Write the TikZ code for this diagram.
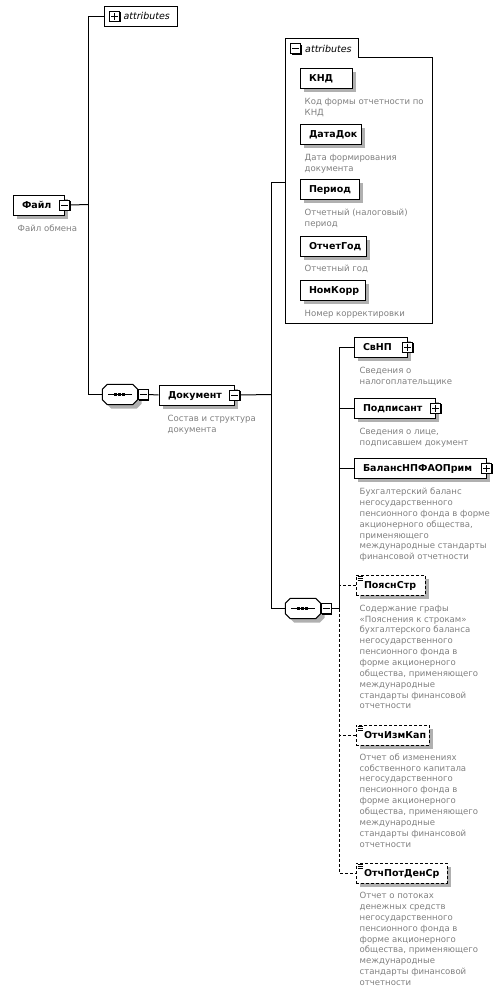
\documentclass[tikz,border=0pt]{standalone}
\usepackage{fontspec}
\setmainfont{DejaVu Sans}
\usetikzlibrary{shadows}
\definecolor{desccol}{RGB}{128,128,128}
\definecolor{shadecol}{RGB}{176,176,176}
\newcommand\nmfont{\bfseries\fontsize{9.5}{11}\selectfont}
\newcommand\dsfont{\fontsize{8.55}{10.85}\selectfont}
\newcommand\atfont{\itshape\fontsize{9.5}{11}\selectfont}
\newcommand\lbx[2]{\makebox[#1][l]{#2}}
\newcommand\dr{\rule{0pt}{7.5pt}}
\newcommand\drawoct[1]{%
  \fill[shadecol, transform canvas={shift={(4pt,-4pt)}}]
    ([xshift=5pt]#1.north west) -- ([xshift=-5pt]#1.north east) -- ([yshift=-5pt]#1.north east)
    -- ([yshift=5pt]#1.south east) -- ([xshift=-5pt]#1.south east) -- ([xshift=5pt]#1.south west)
    -- ([yshift=5pt]#1.south west) -- ([yshift=-5pt]#1.north west) -- cycle;
  \filldraw[fill=white, line width=1pt]
    ([xshift=5pt]#1.north west) -- ([xshift=-5pt]#1.north east) -- ([yshift=-5pt]#1.north east)
    -- ([yshift=5pt]#1.south east) -- ([xshift=-5pt]#1.south east) -- ([xshift=5pt]#1.south west)
    -- ([yshift=5pt]#1.south west) -- ([yshift=-5pt]#1.north west) -- cycle;
  \draw[line width=1pt] ([xshift=-12pt]#1.center) -- ([xshift=12pt]#1.center);
  \foreach \dx in {-6,-2,2}{\fill ([xshift=\dx pt, yshift=-1.5pt]#1.center) rectangle ++(3pt,3pt);}
}
\tikzset{
  conn/.style={line width=1pt},
  optdash/.style={dash pattern=on 3pt off 2pt},
  elem/.style={draw, line width=1pt, fill=white, anchor=north west, minimum height=20pt,
    inner xsep=9pt, inner ysep=0pt, text height=7pt, text depth=0pt, font=\nmfont,
    drop shadow={shadow xshift=4pt, shadow yshift=-4pt, fill=shadecol, opacity=1}},
  optelem/.style={elem, optdash, inner xsep=8pt},
  sign/.style={draw, line width=1pt, fill=white, minimum size=10pt, inner sep=0pt,
    drop shadow={shadow xshift=1pt, shadow yshift=-1pt, fill=black, opacity=1}},
  minus/.style={sign, path picture={\draw[line width=1pt]
    ([xshift=-3.5pt]path picture bounding box.center) -- ([xshift=3.5pt]path picture bounding box.center);}},
  plus/.style={sign, path picture={\draw[line width=1pt]
    ([xshift=-3.5pt]path picture bounding box.center) -- ([xshift=3.5pt]path picture bounding box.center)
    ([yshift=-3.5pt]path picture bounding box.center) -- ([yshift=3.5pt]path picture bounding box.center);}},
  seqbox/.style={rectangle, minimum width=35pt, minimum height=20pt, inner sep=0pt},
  desc/.style={anchor=north west, align=left, font=\dsfont, text=desccol, inner sep=0pt},
}
\begin{document}
\begin{tikzpicture}[x=1pt,y=-1pt]
\useasboundingbox (0,0) rectangle (499,986);
\begin{scope}[xshift=0.5pt, yshift=-0.5pt]

% root
\node[elem] (file) at (12,194) {\lbx{33pt}{Файл}};
\node[minus] (fileS) at (file.east) {};
\node[desc] (fileD) at (17,223) {\dr Файл обмена};

% top attributes (collapsed)
\node[draw, line width=1pt, fill=white, anchor=north west, minimum height=20pt, inner sep=0pt,
  text height=7pt, text depth=0pt, font=\atfont] (attrTop) at (103,5) {\lbx{73pt}{\hspace*{19.5pt}attributes}};
\node[plus] (attrTopS) at ([xshift=11pt]attrTop.west) {};

% sequence 1 and Документ
\node[seqbox] (seq1) at (119.5,394) {};
\drawoct{seq1}
\node[minus, anchor=west] (seq1S) at (seq1.east) {};
\node[elem] (doc) at (158,384) {\lbx{57pt}{Документ}};
\node[minus] (docS) at (doc.east) {};
\node[desc] (docD) at (167,413) {\dr Состав и структура\\документа};

% attributes group (expanded)
\draw[line width=1pt, fill=white] (285,38) -- (358,38) -- (358,57) -- (432,57) -- (432,323) -- (285,323) -- cycle;
\node[minus] (attrGrpS) at (295,48) {};
\node[anchor=base west, font=\atfont, inner sep=0pt] (attrGrpL) at (304.5,52) {attributes};
\coordinate (attrIn) at (285,182);

\node[elem] (knd) at (299,67) {\lbx{34pt}{КНД}};
\node[desc] (kndD) at (304,96) {\dr Код формы отчетности по\\КНД};
\node[elem] (datadok) at (299,123) {\lbx{43pt}{ДатаДок}};
\node[desc] (datadokD) at (304,152) {\dr Дата формирования\\документа};
\node[elem] (period) at (299,178) {\lbx{41pt}{Период}};
\node[desc] (periodD) at (304,207) {\dr Отчетный (налоговый)\\период};
\node[elem] (otchgod) at (299,235) {\lbx{48pt}{ОтчетГод}};
\node[desc] (otchgodD) at (304,263.5) {\dr Отчетный год};
\node[elem] (nomkorr) at (299,279) {\lbx{47pt}{НомКорр}};
\node[desc] (nomkorrD) at (304,308) {\dr Номер корректировки};

% sequence 2 and children
\node[seqbox] (seq2) at (302.5,608) {};
\drawoct{seq2}
\node[minus, anchor=west] (seq2S) at (seq2.east) {};

\node[elem] (svnp) at (353,336) {\lbx{35pt}{СвНП}};
\node[plus] (svnpS) at (svnp.east) {};
\node[desc] (svnpD) at (359,365) {\dr Сведения о\\налогоплательщике};

\node[elem] (podp) at (353,397) {\lbx{63pt}{Подписант}};
\node[plus] (podpS) at (podp.east) {};
\node[desc] (podpD) at (359,426.5) {\dr Сведения о лице,\\подписавшем документ};

\node[elem] (bal) at (353,457) {\lbx{114pt}{БалансНПФАОПрим}};
\node[plus] (balS) at (bal.east) {};
\node[desc] (balD) at (359,486.5) {\dr Бухгалтерский баланс\\негосударственного\\пенсионного фонда в форме\\акционерного общества,\\применяющего\\международные стандарты\\финансовой отчетности};

\node[optelem] (poyasn) at (355,574) {\lbx{53pt}{ПояснСтр}};
\node[desc] (poyasnD) at (359,603) {\dr Содержание графы\\«Пояснения к строкам»\\бухгалтерского баланса\\негосударственного\\пенсионного фонда в\\форме акционерного\\общества, применяющего\\международные\\стандарты финансовой\\отчетности};

\node[optelem] (otchizm) at (355,724) {\lbx{57pt}{ОтчИзмКап}};
\node[desc] (otchizmD) at (359,752) {\dr Отчет об изменениях\\собственного капитала\\негосударственного\\пенсионного фонда в\\форме акционерного\\общества, применяющего\\международные\\стандарты финансовой\\отчетности};

\node[optelem] (otchpot) at (355,862) {\lbx{75pt}{ОтчПотДенСр}};
\node[desc] (otchpotD) at (359,890.5) {\dr Отчет о потоках\\денежных средств\\негосударственного\\пенсионного фонда в\\форме акционерного\\общества, применяющего\\международные\\стандарты финансовой\\отчетности};

% optional-element icons
\foreach \n in {poyasn,otchizm,otchpot}{
  \foreach \dy in {2,4,6}{
    \draw[line width=1pt] ([xshift=2pt,yshift=-\dy pt]\n.north west) -- ++(5pt,0pt);
  }
}

% connectors
\coordinate (j1) at (88,204);
\draw[conn] (fileS.east) -- (j1);
\draw[conn] (attrTop.west) -| (j1) |- (seq1.west);
\draw[conn] (seq1S.east) -- (doc.west);
\coordinate (j2) at (271,394);
\draw[conn] (docS.east) -- (j2);
\draw[conn] (attrIn) -| (j2) |- (seq2.west);
\coordinate (j3) at (339,608);
\draw[conn] (seq2S.east) -- (j3);
\draw[conn] (svnp.west) -| (j3);
\draw[conn] (podp.west) -- (podp.west -| j3);
\draw[conn] (bal.west) -- (bal.west -| j3);
\draw[conn, optdash] (j3) |- (otchpot.west);
\draw[conn, optdash] (poyasn.west) -- (poyasn.west -| j3);
\draw[conn, optdash] (otchizm.west) -- (otchizm.west -| j3);
\end{scope}
\end{tikzpicture}
\end{document}
